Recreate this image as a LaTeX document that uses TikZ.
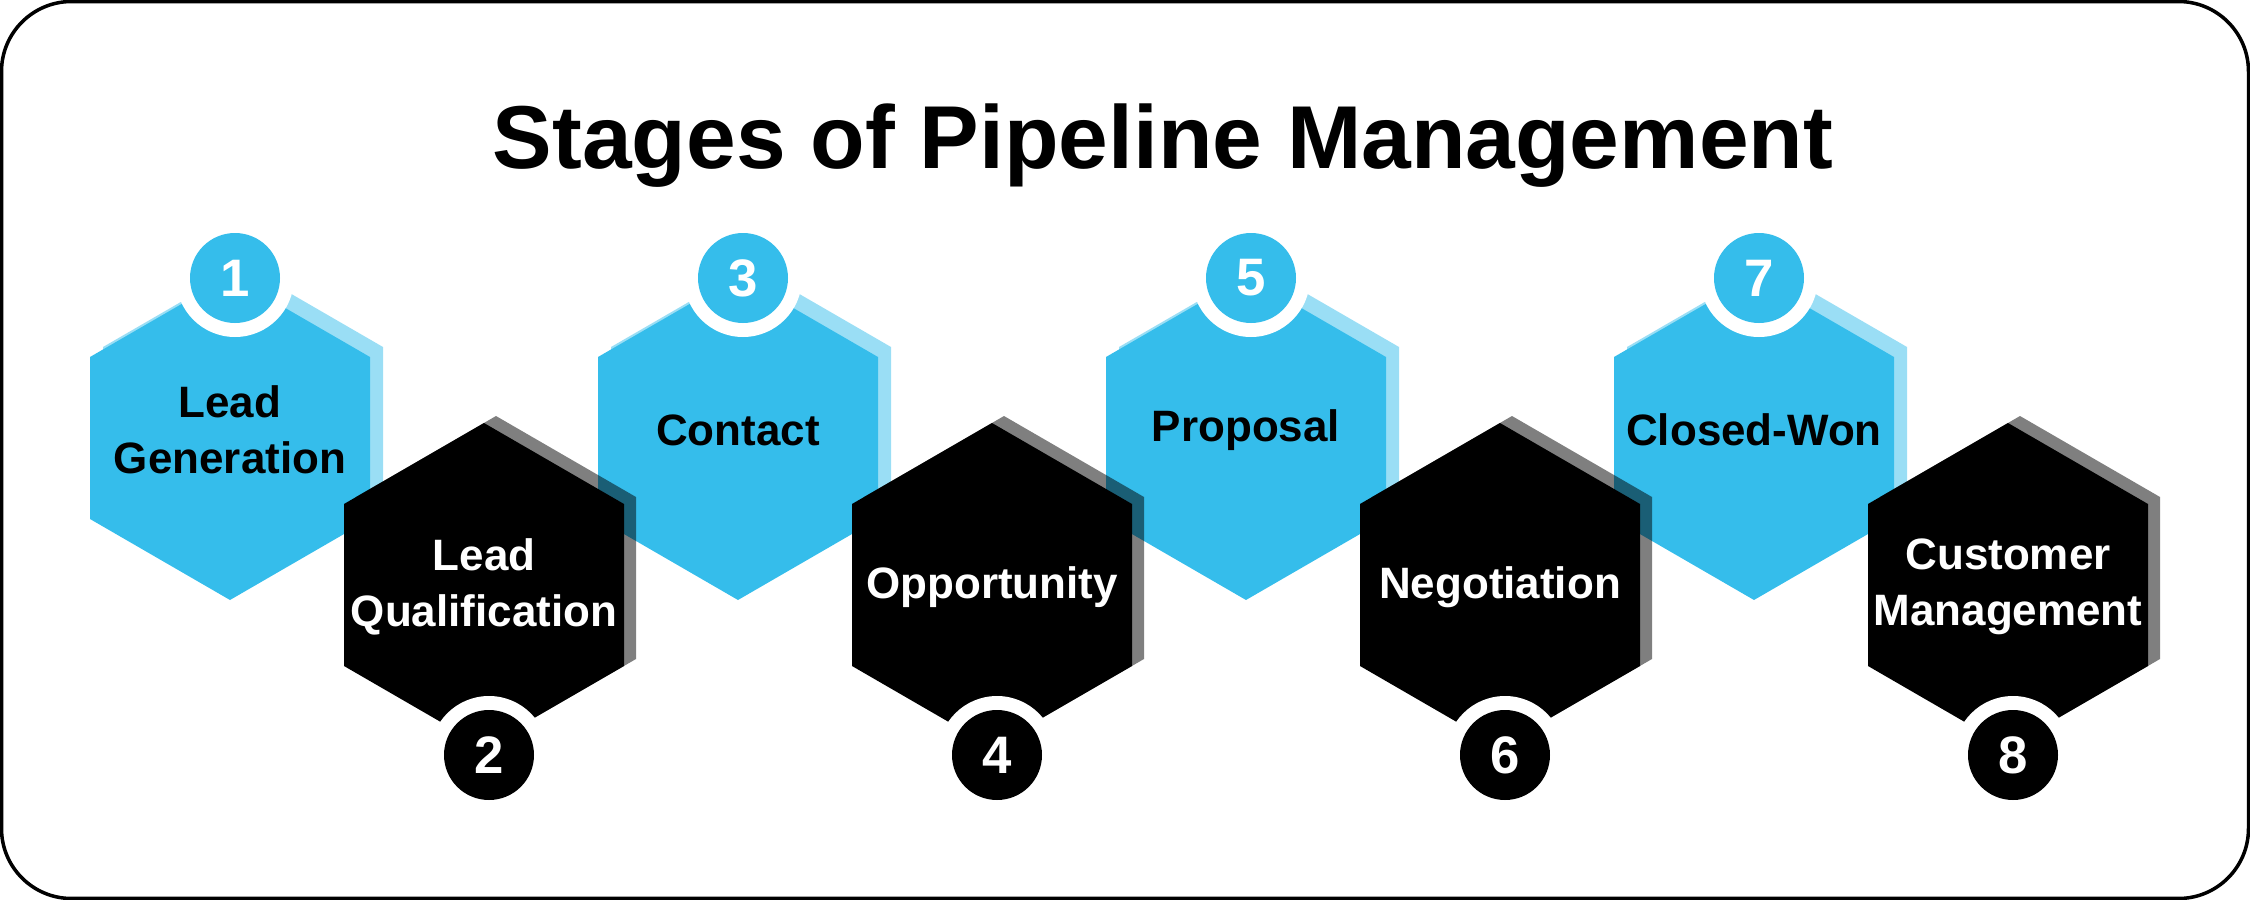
\documentclass[tikz,border=0pt]{standalone}
\usepackage{fontspec}
\setmainfont{Liberation Sans}
\definecolor{skyb}{HTML}{35BDEB}
\newcommand\hexfill[3]{\fill[#1,shift={(#2,#3)}] (0,-162) -- (140,-81) -- (140,81) -- (0,162) -- (-140,81) -- (-140,-81) -- cycle;}
\begin{document}
\begin{tikzpicture}[x=0.01cm,y=-0.01cm,
  hextext/.style={font=\bfseries\fontsize{12.5}{16}\selectfont, align=center, inner sep=0pt},
  numtext/.style={font=\bfseries\fontsize{15}{18}\selectfont, text=white, inner sep=0pt},
  frame/.style={line width=1pt, rounded corners=0.7cm}]
\useasboundingbox (0,0) rectangle (2250,900);
\draw[frame] (1.5,1.5) rectangle (2248.5,898.5);
\node[font=\bfseries\fontsize{25.4}{30}\selectfont, anchor=base] (title) at (1163,169) {Stages of Pipeline Management};
\foreach \x/\n/\lbl in {230/1/{Lead\\Generation}, 738/3/Contact, 1246/5/Proposal, 1754/7/Closed-Won} {
  \hexfill{skyb,opacity=0.5}{\x+13}{428}
  \hexfill{skyb}{\x}{438}
  \fill[white] (\x+5,278) circle[radius=59];
  \fill[skyb] (\x+5,278) circle[radius=45];
  \node[numtext] (n\n) at (\x+5,278) {\n};
  \node[hextext] (s\n) at (\x,430) {\lbl};
}
\foreach \x/\n/\lbl in {484/2/{Lead\\Qualification}, 992/4/Opportunity, 1500/6/Negotiation, 2008/8/{Customer\\Management}} {
  \hexfill{black,opacity=0.5}{\x+12}{578}
  \hexfill{black}{\x}{585}
  \fill[white] (\x+5,755) circle[radius=59];
  \fill[black] (\x+5,755) circle[radius=45];
  \node[numtext] (n\n) at (\x+5,755) {\n};
  \node[hextext,text=white] (s\n) at (\x,587) {\lbl};
}
\end{tikzpicture}
\end{document}
